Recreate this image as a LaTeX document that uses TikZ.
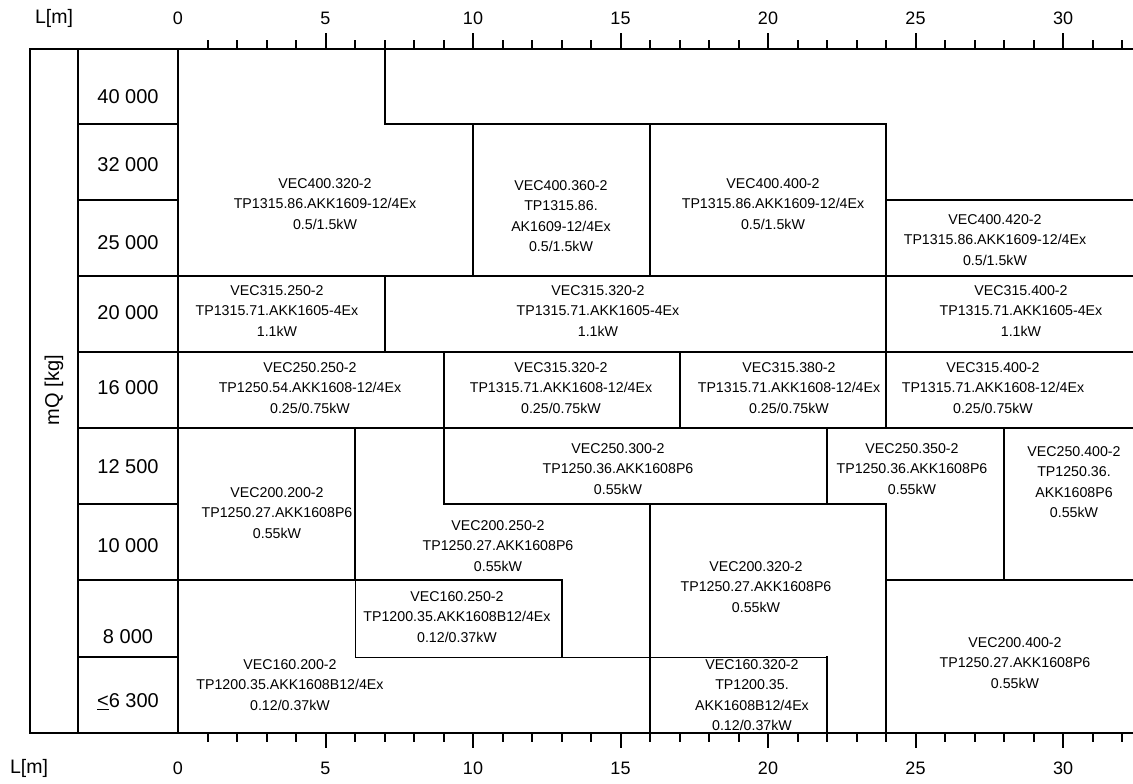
\documentclass[tikz,border=0pt]{standalone}
\usepackage{fontspec}
\setmainfont{Liberation Sans}
\begin{document}
\begin{tikzpicture}[x=1pt,y=-1pt,
  thk/.style={line width=2pt,line cap=rect},
  thn/.style={line width=1pt},
  mid/.style={line width=1.5pt,line cap=rect},
  cell/.style={align=center,inner sep=0pt,font=\fontsize{14.2}{20.5}\selectfont},
  rowlab/.style={inner sep=0pt,font=\fontsize{20}{24}\selectfont},
  axlab/.style={inner sep=0pt,font=\fontsize{18}{22}\selectfont},
  lmlab/.style={inner sep=0pt,font=\fontsize{19.5}{22}\selectfont}]
\useasboundingbox (0,0) rectangle (1133,784);
% frame
\draw[thk] (1133,49) -- (30,49) -- (30,733) -- (1133,733);
\draw[thk] (78,49) -- (78,733);
\draw[thk] (178,49) -- (178,733);
\foreach \y in {124,200,276,352,428,504,580,657} \draw[thk] (78,\y) -- (178,\y);
% ticks
\foreach \m in {1,2,3,4,6,7,8,9,11,12,13,14,16,17,18,19,21,22,23,24,26,27,28,29,31,32}{
  \draw[line width=2pt] ({178+29.5*\m},49) -- ({178+29.5*\m},40);
  \draw[line width=2pt] ({178+29.5*\m},733) -- ({178+29.5*\m},742);}
\foreach \m in {5,10,15,20,25,30}{
  \draw[line width=2pt] ({178+29.5*\m},49) -- ({178+29.5*\m},33);
  \draw[line width=2pt] ({178+29.5*\m},733) -- ({178+29.5*\m},748);}
% axis labels
\node[lmlab] (lt) at (54,18) {L[m]};
\node[lmlab] (lb) at (29,768) {L[m]};
\foreach \m in {0,5,10,15,20,25,30}{
  \node[axlab] (t\m) at ({178+29.5*\m},18) {\m};
  \node[axlab] (b\m) at ({178+29.5*\m},768) {\m};}
% row labels
\node[rowlab,rotate=90] (mq) at (54,390) {mQ [kg]};
\node[rowlab] (r40) at (128,97) {40 000};
\node[rowlab] (r32) at (128,165) {32 000};
\node[rowlab] (r25) at (128,243) {25 000};
\node[rowlab] (r20) at (128,313) {20 000};
\node[rowlab] (r16) at (128,388) {16 000};
\node[rowlab] (r125) at (128,467) {12 500};
\node[rowlab] (r10) at (128,546) {10 000};
\node[rowlab] (r8) at (128,637) {8 000};
\node[rowlab] (r63) at (128,702) {\underline{<}6 300};
% grid lines
\draw[thk] (384.5,49) -- (384.5,124) -- (886,124);
\draw[thk] (473,124) -- (473,276);
\draw[thk] (650,124) -- (650,276);
\draw[thk] (886,124) -- (886,352);
\draw[thk] (886,200) -- (1133,200);
\draw[thk] (178,276) -- (1133,276);
\draw[thk] (384.5,276) -- (384.5,352);
\draw[thk] (178,352) -- (1133,352);
\draw[thk] (443.5,352) -- (443.5,428);
\draw[thk] (679.5,352) -- (679.5,428);
\draw[thk] (886,352) -- (886,428);
\draw[thk] (178,428) -- (1133,428);
\draw[mid] (355,428) -- (355,580);
\draw[thk] (443.5,428) -- (443.5,504) -- (886,504) -- (886,733);
\draw[thk] (827,428) -- (827,504);
\draw[thk] (1004,428) -- (1004,580);
\draw[thk] (650,504) -- (650,733);
\draw[thk] (178,580) -- (561.5,580) -- (561.5,657);
\draw[thk] (886,580) -- (1133,580);
\draw[thn] (355,580) -- (355,657) -- (827,657);
\draw[mid] (827,657) -- (827,733);
% cell texts
\node[cell] (c1) at (325,204) {VEC400.320-2\\TP1315.86.AKK1609-12/4Ex\\0.5/1.5kW};
\node[cell] (c2) at (561,216) {VEC400.360-2\\TP1315.86.\\AK1609-12/4Ex\\0.5/1.5kW};
\node[cell] (c3) at (773,204) {VEC400.400-2\\TP1315.86.AKK1609-12/4Ex\\0.5/1.5kW};
\node[cell] (c4) at (995,240) {VEC400.420-2\\TP1315.86.AKK1609-12/4Ex\\0.5/1.5kW};
\node[cell] (c5) at (277,311) {VEC315.250-2\\TP1315.71.AKK1605-4Ex\\1.1kW};
\node[cell] (c6) at (598,311) {VEC315.320-2\\TP1315.71.AKK1605-4Ex\\1.1kW};
\node[cell] (c7) at (1021,311) {VEC315.400-2\\TP1315.71.AKK1605-4Ex\\1.1kW};
\node[cell] (c8) at (310,388) {VEC250.250-2\\TP1250.54.AKK1608-12/4Ex\\0.25/0.75kW};
\node[cell] (c9) at (561,388) {VEC315.320-2\\TP1315.71.AKK1608-12/4Ex\\0.25/0.75kW};
\node[cell] (c10) at (789,388) {VEC315.380-2\\TP1315.71.AKK1608-12/4Ex\\0.25/0.75kW};
\node[cell] (c11) at (993,388) {VEC315.400-2\\TP1315.71.AKK1608-12/4Ex\\0.25/0.75kW};
\node[cell] (c12) at (277,513) {VEC200.200-2\\TP1250.27.AKK1608P6\\0.55kW};
\node[cell] (c13) at (618,469) {VEC250.300-2\\TP1250.36.AKK1608P6\\0.55kW};
\node[cell] (c14) at (498,546) {VEC200.250-2\\TP1250.27.AKK1608P6\\0.55kW};
\node[cell] (c15) at (912,469) {VEC250.350-2\\TP1250.36.AKK1608P6\\0.55kW};
\node[cell] (c16) at (1074,482) {VEC250.400-2\\TP1250.36.\\AKK1608P6\\0.55kW};
\node[cell] (c17) at (756,587) {VEC200.320-2\\TP1250.27.AKK1608P6\\0.55kW};
\node[cell] (c18) at (457,617) {VEC160.250-2\\TP1200.35.AKK1608B12/4Ex\\0.12/0.37kW};
\node[cell] (c19) at (290,685) {VEC160.200-2\\TP1200.35.AKK1608B12/4Ex\\0.12/0.37kW};
\node[cell] (c20) at (752,695) {VEC160.320-2\\TP1200.35.\\AKK1608B12/4Ex\\0.12/0.37kW};
\node[cell] (c21) at (1015,663) {VEC200.400-2\\TP1250.27.AKK1608P6\\0.55kW};
\end{tikzpicture}
\end{document}
